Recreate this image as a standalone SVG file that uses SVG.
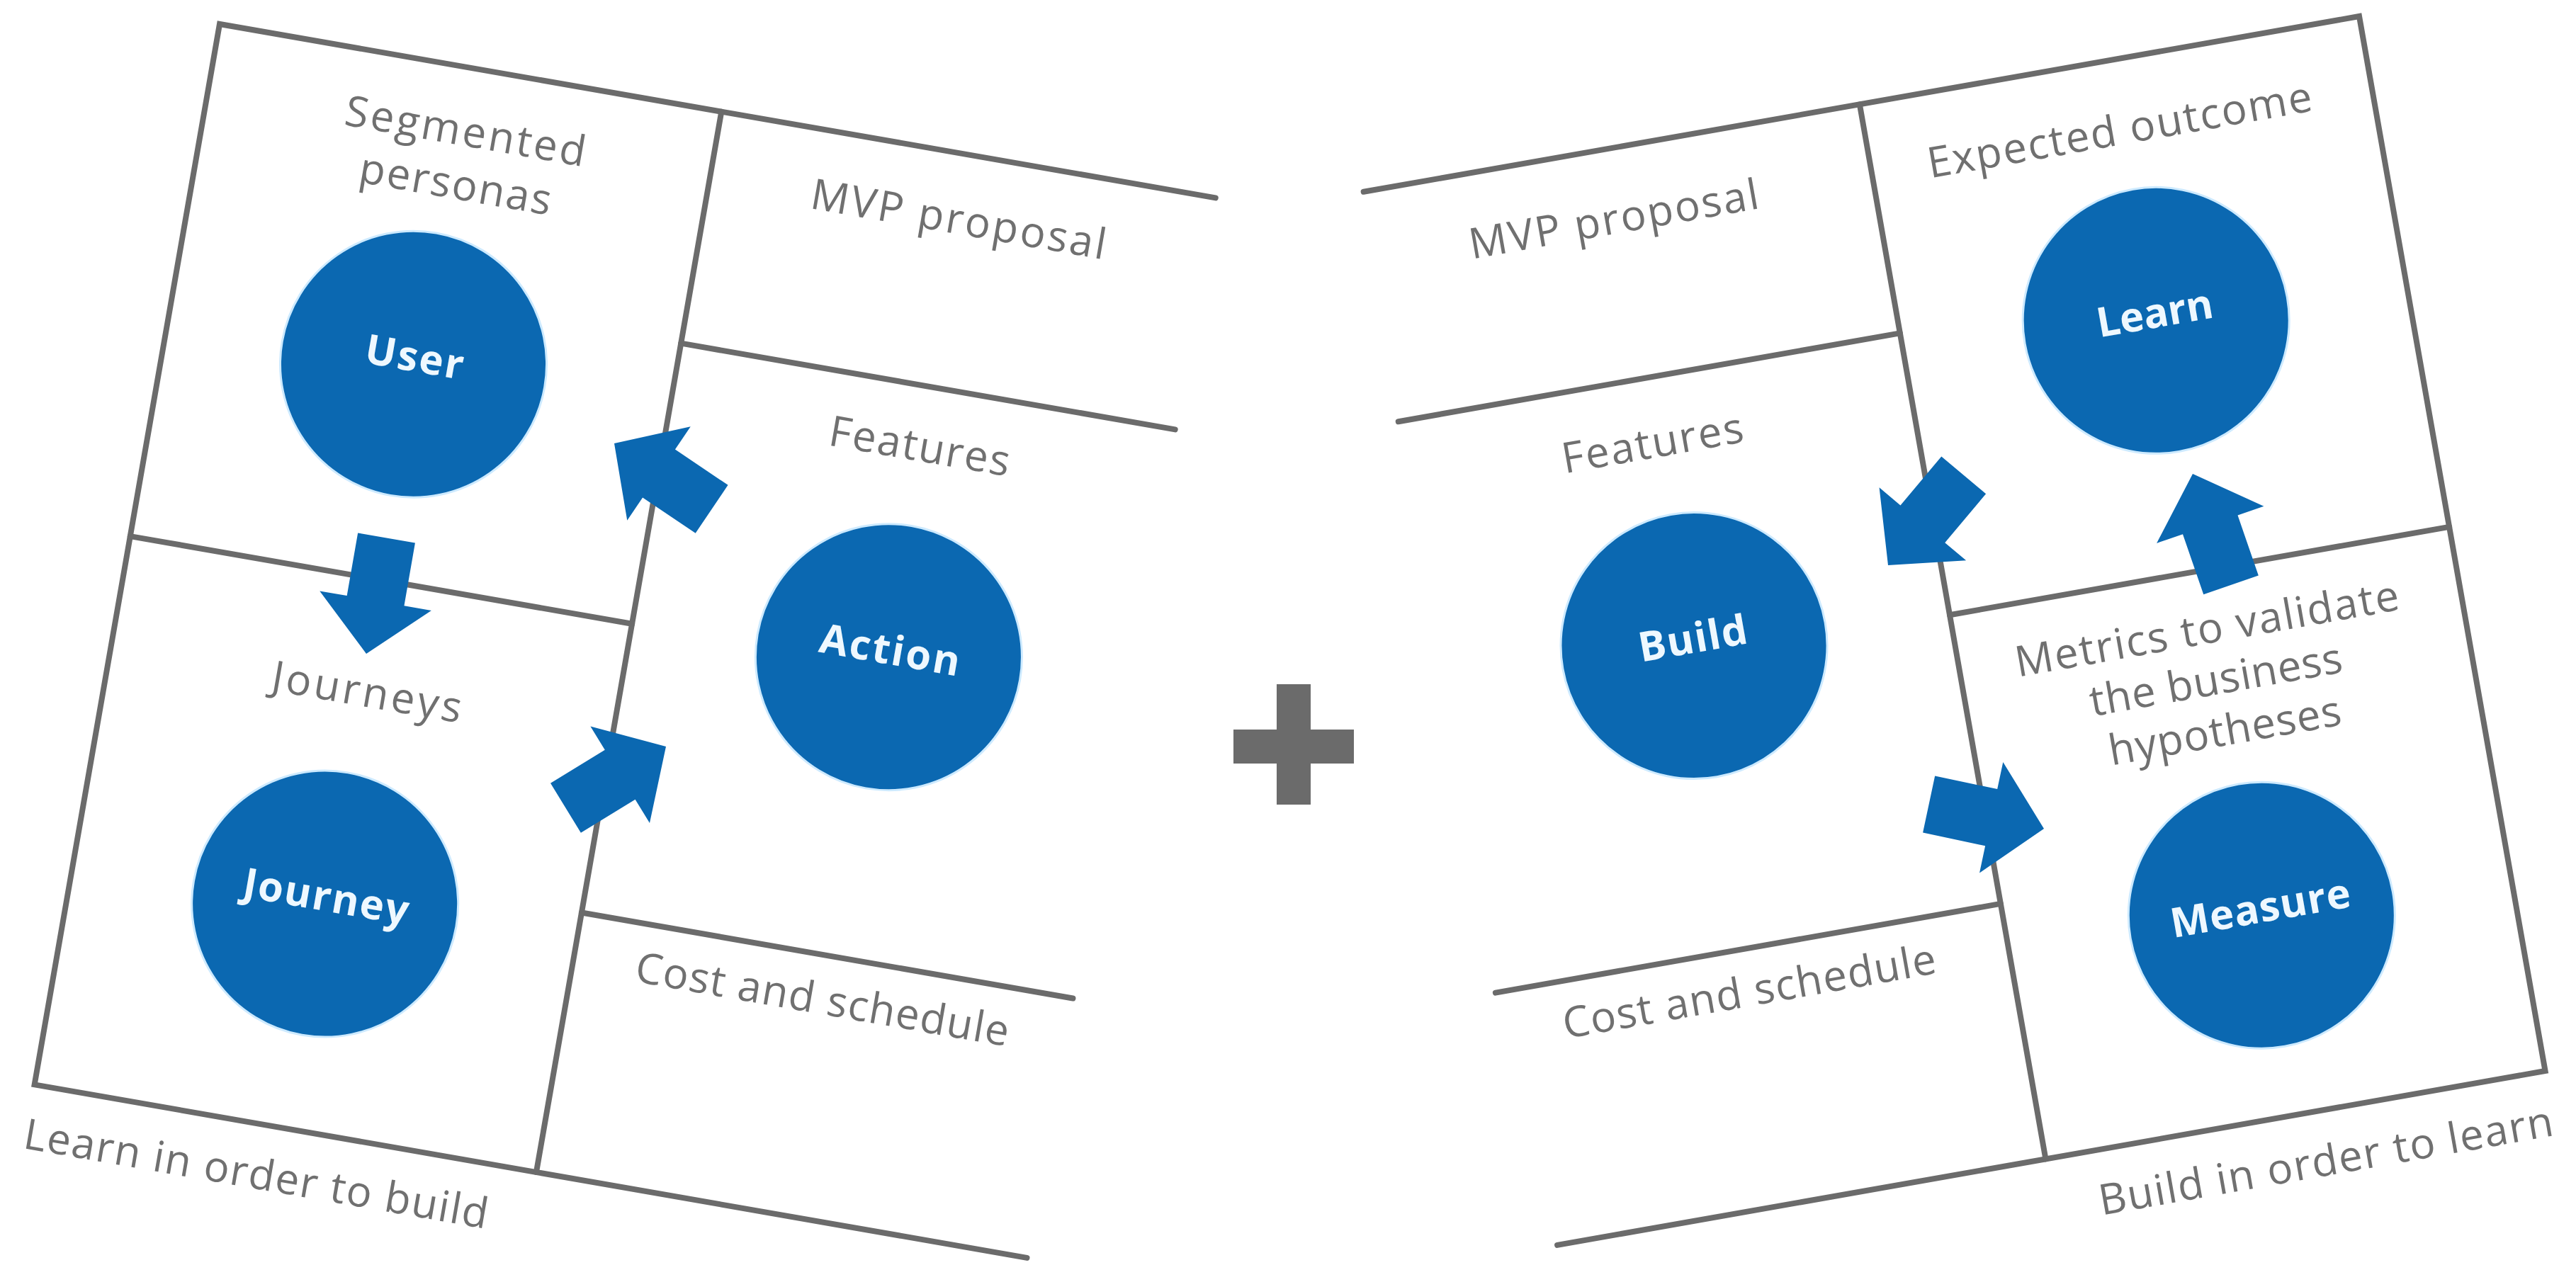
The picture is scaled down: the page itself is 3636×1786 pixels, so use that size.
<svg xmlns="http://www.w3.org/2000/svg" width="3636" height="1786" viewBox="0 0 3636 1786">
<style>
.frame{fill:none;stroke:#6b6b6b;stroke-width:8;stroke-linecap:round;stroke-linejoin:miter}
.lbl{font-family:"Open Sans","Noto Sans",sans-serif;font-size:60px;fill:#707070;text-anchor:middle}
.lbl-s{font-family:"Open Sans","Noto Sans",sans-serif;font-size:60px;fill:#707070}
.disc{fill:#0b68b1;stroke:#cdeaff;stroke-width:3}
.ntxt{font-family:"Open Sans","Noto Sans",sans-serif;font-weight:bold;font-size:58px;fill:#eef8ff;text-anchor:middle}
.arrow{fill:#0b68b1}
.plus{fill:#6b6b6b}
</style>
<defs>
<path id="arr" d="M0,0 L-76,-80 L-76,-41 L-166,-41 L-166,41 L-76,41 L-76,80 Z"/>
</defs>
<rect width="3636" height="1786" fill="#ffffff"/>

<g id="left-panel" transform="translate(310,34) rotate(9.9)">
  <g id="left-frame">
    <polyline class="frame" points="1427,0 0,0 0,1520 1422,1520"/>
    <line class="frame" x1="719" y1="0" x2="719" y2="1520"/>
    <line class="frame" x1="0" y1="734" x2="719" y2="734"/>
    <line class="frame" x1="719" y1="332" x2="1427" y2="332"/>
    <line class="frame" x1="719" y1="1148" x2="1423" y2="1148"/>
  </g>
  <g id="left-labels">
    <text class="lbl" x="368" y="110" textLength="344" lengthAdjust="spacing">Segmented</text>
    <text class="lbl" x="367" y="186" textLength="274" lengthAdjust="spacing">personas</text>
    <text class="lbl" x="1075" y="113" textLength="422" lengthAdjust="spacing">MVP proposal</text>
    <text class="lbl" x="1076" y="438" textLength="258" lengthAdjust="spacing">Features</text>
    <text class="lbl" x="1075" y="1231" textLength="534" lengthAdjust="spacing">Cost and schedule</text>
    <text class="lbl" x="367" y="914" textLength="271" lengthAdjust="spacing">Journeys</text>
    <text class="lbl-s" x="-2" y="1611" textLength="664" lengthAdjust="spacing">Learn in order to build</text>
  </g>
  <g id="node-user">
    <circle class="disc" cx="352" cy="426" r="188"/>
    <text class="ntxt" x="352" y="436" textLength="140" lengthAdjust="spacing">User</text>
  </g>
  <g id="node-journey">
    <circle class="disc" cx="360" cy="1198" r="188"/>
    <text class="ntxt" x="360" y="1208" textLength="236" lengthAdjust="spacing">Journey</text>
  </g>
  <g id="node-action">
    <circle class="disc" cx="1084" cy="718" r="188"/>
    <text class="ntxt" x="1084" y="728" textLength="200" lengthAdjust="spacing">Action</text>
  </g>
</g>

<g id="plus-sign">
  <rect class="plus" x="1741" y="1030" width="170" height="48"/>
  <rect class="plus" x="1802" y="966" width="48" height="170"/>
</g>

<g id="right-panel" transform="translate(3330,23) rotate(-10)">
  <g id="right-frame">
    <polyline class="frame" points="-1427,0 0,0 0,1512 -1416,1512"/>
    <line class="frame" x1="-716" y1="0" x2="-716" y2="1512"/>
    <line class="frame" x1="-716" y1="732" x2="0" y2="732"/>
    <line class="frame" x1="-1435" y1="328" x2="-716" y2="328"/>
    <line class="frame" x1="-1440" y1="1146" x2="-716" y2="1146"/>
  </g>
  <g id="right-labels">
    <text class="lbl" x="-1086" y="120" textLength="414" lengthAdjust="spacing">MVP proposal</text>
    <text class="lbl" x="-1087" y="441" textLength="259" lengthAdjust="spacing">Features</text>
    <text class="lbl" x="-1087" y="1227" textLength="534" lengthAdjust="spacing">Cost and schedule</text>
    <text class="lbl" x="-361" y="120" textLength="550" lengthAdjust="spacing">Expected outcome</text>
    <text class="lbl" x="-362" y="835" textLength="549" lengthAdjust="spacing">Metrics to validate</text>
    <text class="lbl" x="-362" y="908" textLength="361" lengthAdjust="spacing">the business</text>
    <text class="lbl" x="-362" y="981" textLength="332" lengthAdjust="spacing">hypotheses</text>
    <text class="lbl-s" x="-652" y="1604" textLength="650" lengthAdjust="spacing">Build in order to learn</text>
  </g>
  <g id="node-learn">
    <circle class="disc" cx="-357" cy="373" r="188"/>
    <text class="ntxt" x="-357" y="383" textLength="166" lengthAdjust="spacing">Learn</text>
  </g>
  <g id="node-build">
    <circle class="disc" cx="-1079" cy="712" r="188"/>
    <text class="ntxt" x="-1079" y="722" textLength="155" lengthAdjust="spacing">Build</text>
  </g>
  <g id="node-measure">
    <circle class="disc" cx="-356" cy="1226" r="188"/>
    <text class="ntxt" x="-356" y="1236" textLength="257" lengthAdjust="spacing">Measure</text>
  </g>
</g>

<g id="connectors">
  <use class="arrow" href="#arr" transform="translate(517,923) rotate(99.9)"/>
  <use class="arrow" href="#arr" transform="translate(867,626) rotate(-146)"/>
  <use class="arrow" href="#arr" transform="translate(940,1054) rotate(-31.5)"/>
  <use class="arrow" href="#arr" transform="translate(2665,798) rotate(130)"/>
  <use class="arrow" href="#arr" transform="translate(3095,669) rotate(-109)"/>
  <use class="arrow" href="#arr" transform="translate(2885,1170) rotate(12)"/>
</g>
</svg>
